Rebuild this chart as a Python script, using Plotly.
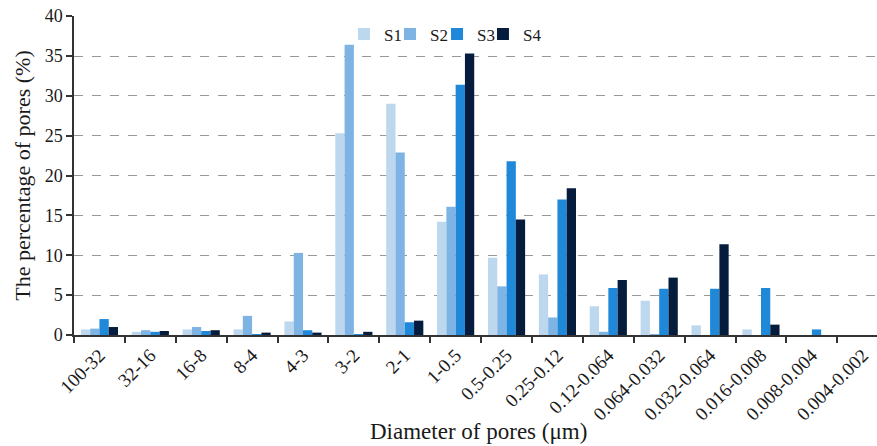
import plotly.graph_objects as go

categories = ["100-32", "32-16", "16-8", "8-4", "4-3", "3-2", "2-1", "1-0.5",
              "0.5-0.25", "0.25-0.12", "0.12-0.064", "0.064-0.032", "0.032-0.064",
              "0.016-0.008", "0.008-0.004", "0.004-0.002"]
s1 = [0.7, 0.4, 0.7, 0.7, 1.7, 25.3, 29.0, 14.2, 9.7, 7.6, 3.6, 4.3, 1.2, 0.7, 0.0, 0.0]
s2 = [0.8, 0.6, 1.0, 2.4, 10.3, 36.4, 22.9, 16.1, 6.1, 2.2, 0.4, 0.1, 0.0, 0.0, 0.0, 0.0]
s3 = [2.0, 0.4, 0.5, 0.1, 0.6, 0.1, 1.6, 31.4, 21.8, 17.0, 5.9, 5.8, 5.8, 5.9, 0.7, 0.0]
s4 = [1.0, 0.5, 0.6, 0.3, 0.3, 0.4, 1.8, 35.3, 14.5, 18.4, 6.9, 7.2, 11.4, 1.3, 0.0, 0.0]
series_names = ["S1", "S2", "S3", "S4"]
colors = ["#BDD7EE", "#7DB4E4", "#1F88D8", "#061C3C"]

font_family = "Liberation Serif"
txt = "#1a1a1a"

legend_ids = ["legend", "legend2", "legend3", "legend4"]
legend_x = [0.3362, 0.3935, 0.4521, 0.5093]

fig = go.Figure()
for name, vals, col, lid in zip(series_names, [s1, s2, s3, s4], colors, legend_ids):
    fig.add_trace(go.Bar(x=categories, y=vals, name=name, marker_color=col,
                         marker_line_width=0, legend=lid))

legend_layout = {}
for lid, lx in zip(legend_ids, legend_x):
    legend_layout[lid] = dict(x=lx, xanchor="left", y=0.942, yanchor="middle",
                              bgcolor="rgba(0,0,0,0)", itemwidth=30,
                              font=dict(size=17, family=font_family, color=txt))

fig.update_layout(
    width=877, height=446,
    margin=dict(l=74, r=0, t=16, b=111),
    paper_bgcolor="white", plot_bgcolor="white",
    barmode="group", bargap=0.27, bargroupgap=0,
    font=dict(family=font_family, size=18, color=txt),
    showlegend=True,
    xaxis=dict(
        type="category", range=[-0.5, 15.28], automargin=False,
        showline=True, linecolor="#333", linewidth=1.5,
        ticks="outside", ticklen=6, tickcolor="#333", tickwidth=1.5,
        tickson="boundaries", tickangle=-45,
        tickfont=dict(size=19, family=font_family, color=txt),
        showgrid=False,
    ),
    yaxis=dict(
        range=[0, 40.02], dtick=5, automargin=False, ticklabeloverflow="allow",
        showline=True, linecolor="#333", linewidth=1.5,
        ticks="outside", ticklen=6, tickcolor="#333", tickwidth=1.5,
        showgrid=True, gridcolor="#999", griddash="dash", gridwidth=1,
        zeroline=False,
        tickfont=dict(size=18, family=font_family, color=txt),
        title=dict(text="The percentage of pores (%)", font=dict(size=22, family=font_family, color=txt),
                   standoff=8),
    ),
    annotations=[dict(text="Diameter of pores (μm)", xref="paper", yref="paper",
                      x=0.504, y=-0.304, xanchor="center", yanchor="middle", showarrow=False,
                      font=dict(size=23, family=font_family, color=txt))],
    **legend_layout,
)

fig.write_html("out.html", config={"displayModeBar": False},
               post_script="document.body.style.margin='0';document.body.style.overflow='hidden';")
